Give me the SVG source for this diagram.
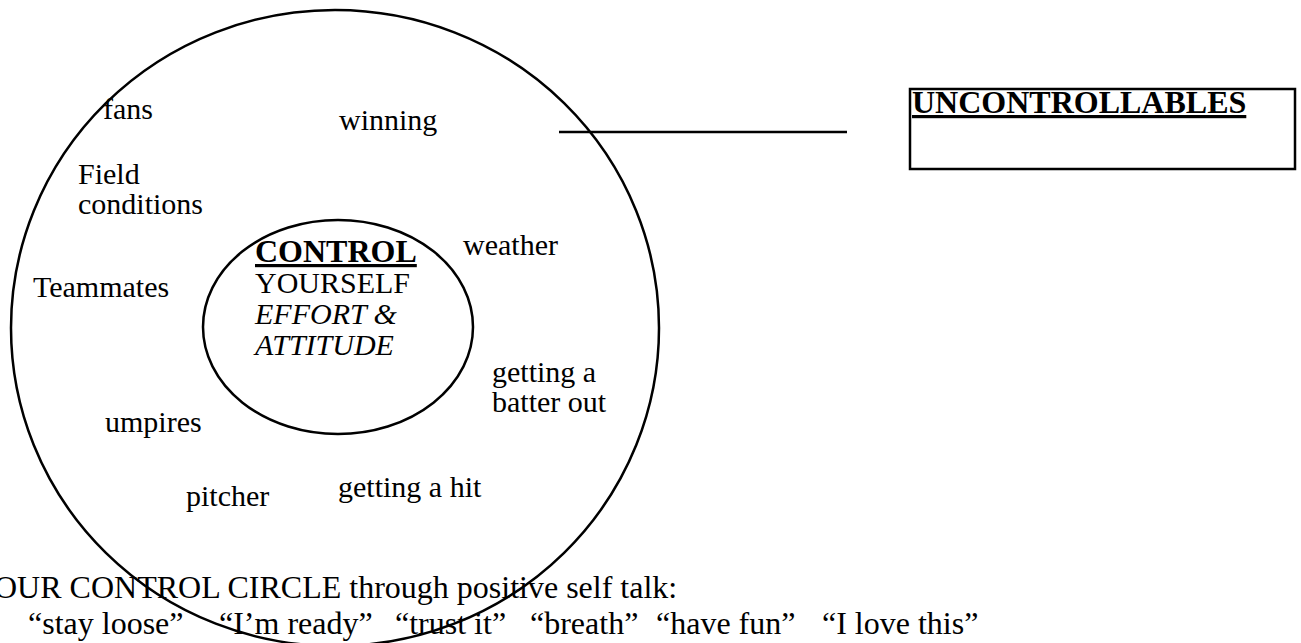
<svg xmlns="http://www.w3.org/2000/svg" width="1301" height="643" viewBox="0 0 1301 643">
<style>
text{font-family:"Liberation Serif","Times New Roman",serif;font-size:30px;fill:#000}
.b{font-weight:bold;text-decoration:underline;font-size:32px}
.i{font-style:italic}
.cap{font-size:32px}
.shape{fill:none;stroke:#000;stroke-width:2.5}
</style>
<rect width="1301" height="643" fill="#fff"/>
<g id="outer-circle">
<ellipse class="shape" cx="335" cy="328" rx="324" ry="318"/>
<text x="103" y="119">fans</text>
<text x="339" y="130">winning</text>
<text x="78" y="184">Field</text>
<text x="78" y="214">conditions</text>
<text x="463" y="255">weather</text>
<text x="33" y="297">Teammates</text>
<text x="492" y="382">getting a</text>
<text x="492" y="412">batter out</text>
<text x="105" y="432">umpires</text>
<text x="186" y="506">pitcher</text>
<text x="338" y="497">getting a hit</text>
</g>
<g id="inner-circle">
<ellipse class="shape" cx="338" cy="327" rx="135" ry="107"/>
<text class="b" x="255" y="262">CONTROL</text>
<text x="255" y="293">YOURSELF</text>
<text class="i" x="255" y="324">EFFORT &amp;</text>
<text class="i" x="255" y="355">ATTITUDE</text>
</g>
<g id="connectors">
<line class="shape" x1="559" y1="132" x2="847" y2="132"/>
</g>
<g id="uncontrollables">
<rect class="shape" x="910" y="89" width="385" height="80"/>
<text class="b" x="912" y="113">UNCONTROLLABLES</text>
</g>
<g id="caption">
<text class="cap" x="-6" y="598">OUR CONTROL CIRCLE through positive self talk:</text>
<text class="cap" y="634"><tspan x="28">“stay loose”</tspan><tspan x="219">“I’m ready”</tspan><tspan x="395">“trust it”</tspan><tspan x="530">“breath”</tspan><tspan x="656">“have fun”</tspan><tspan x="822">“I love this”</tspan></text>
</g>
</svg>
